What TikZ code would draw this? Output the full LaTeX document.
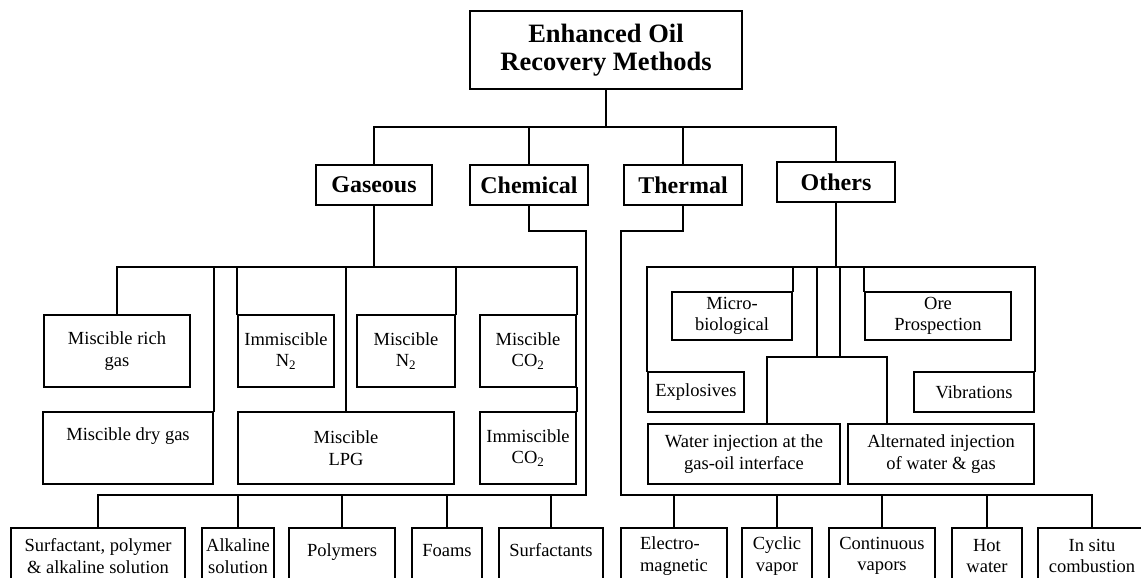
\documentclass[tikz,border=0pt]{standalone}
\usepackage{fontspec}
\setmainfont{Liberation Serif}
\usetikzlibrary{calc}
\begin{document}
\begin{tikzpicture}[x=1pt,y=-1pt,
  box/.style={draw, rectangle, inner sep=0pt, align=center, line width=2pt,
    font=\fontsize{18.5}{21.5}\selectfont},
  head/.style={box, font=\fontsize{24}{28}\selectfont\bfseries},
  title/.style={box, font=\fontsize{26.5}{27.5}\selectfont\bfseries},
  low/.style={box, minimum height=56pt},
  oneline/.style={text height=9pt, text depth=9pt},
  link/.style={line width=2pt, line cap=rect, line join=miter}]

\fill[white] (0,0) rectangle (1141,578);
\clip (0,0) rectangle (1141,578);

% root and main categories
\node[title, minimum width=272pt, minimum height=78pt] (root) at (606,50) {Enhanced Oil\\Recovery Methods};
\node[head, minimum width=116pt, minimum height=40pt] (gas)  at (374,185) {Gaseous};
\node[head, minimum width=118pt, minimum height=40pt] (chem) at (529,185) {Chemical};
\node[head, minimum width=118pt, minimum height=40pt] (ther) at (683,185) {Thermal};
\node[head, minimum width=118pt, minimum height=40pt] (oth)  at (836,182) {Others};

% gaseous methods
\node[box, minimum width=146pt, minimum height=72pt] (rich)  at (117,351) {Miscible rich\\gas};
\node[box, minimum width=170pt, minimum height=72pt] (dry)   at (128,448) {Miscible dry gas\\\strut};
\node[box, minimum width=96pt,  minimum height=72pt] (immN)  at (286,351) {Immiscible\\N\textsubscript{2}};
\node[box, minimum width=98pt,  minimum height=72pt] (misN)  at (406,351) {Miscible\\N\textsubscript{2}};
\node[box, minimum width=216pt, minimum height=72pt] (lpg)   at (346,448) {Miscible\\LPG};
\node[box, minimum width=96pt,  minimum height=72pt] (misCO) at (528,351) {Miscible\\CO\textsubscript{2}};
\node[box, minimum width=96pt,  minimum height=72pt] (immCO) at (528,448) {Immiscible\\CO\textsubscript{2}};

% other methods
\node[box, minimum width=120pt, minimum height=48pt] (micro) at (732,316) {Micro-\\biological};
\node[box, minimum width=146pt, minimum height=48pt] (ore)   at (938,316) {Ore\\Prospection};
\node[box, minimum width=96pt,  minimum height=40pt] (expl)  at (696,392) {Explosives};
\node[box, minimum width=120pt, minimum height=40pt] (vib)   at (974,392) {Vibrations};
\node[box, minimum width=192pt, minimum height=60pt] (water) at (744,454) {Water injection at the\\gas-oil interface};
\node[box, minimum width=186pt, minimum height=60pt] (alt)   at (941,454) {Alternated injection\\of water \& gas};

% chemical methods
\node[low, minimum width=174pt] (sp)   at (98,556)  {Surfactant, polymer\\\& alkaline solution};
\node[low, minimum width=72pt]  (alk)  at (238,556) {Alkaline\\solution};
\node[low, oneline, minimum width=106pt] (poly) at (342,556) {Polymers};
\node[low, oneline, minimum width=70pt]  (foam) at (447,556) {Foams};
\node[low, oneline, minimum width=104pt] (surf) at (551,556) {Surfactants};

% thermal methods
\node[low, minimum width=106pt, align=left] (em) at (674,556) {Electro-\\magnetic};
\node[low, minimum width=70pt]  (cyc)  at (777,556)  {Cyclic\\vapor};
\node[low, minimum width=106pt] (cont) at (882,556)  {Continuous\\vapors};
\node[low, minimum width=70pt]  (hot)  at (987,556)  {Hot\\water};
\node[low, minimum width=108pt] (ins)  at (1092,556) {In situ\\combustion};

% bus levels and bends
\coordinate (tbus) at (0,127);
\coordinate (gbus) at (0,267);
\coordinate (cbus) at (0,495);
\coordinate (cjog) at (586,231);
\coordinate (tjog) at (621,231);
\coordinate (ch1)  at (817,357);
\coordinate (ch2)  at (840,357);
\coordinate (wdrop) at (767,424);
\coordinate (adrop) at (887,424);

% root to categories
\draw[link] (root.south) -- (root.south |- tbus);
\draw[link] (gas.north) |- (oth.north |- tbus) -- (oth.north);
\draw[link] (chem.north) -- (chem.north |- tbus);
\draw[link] (ther.north) -- (ther.north |- tbus);

% gaseous tree
\draw[link] (gas.south) -- (gas.south |- gbus);
\draw[link] (rich.north) |- (misCO.north east |- gbus) -- (misCO.north east);
\draw[link] (dry.north east) -- (dry.north east |- gbus);
\draw[link] (immN.north west) -- (immN.north west |- gbus);
\draw[link] (lpg.north) -- (lpg.north |- gbus);
\draw[link] (misN.north east) -- (misN.north east |- gbus);
\draw[link] (misCO.south east) -- (immCO.north east);

% others tree
\draw[link] (oth.south) -- (oth.south |- gbus);
\draw[link] (expl.north west) |- (vib.north east |- gbus) -- (vib.north east);
\draw[link] (micro.north east) -- (micro.north east |- gbus);
\draw[link] (ore.north west) -- (ore.north west |- gbus);
\draw[link] (ch1) -- (ch1 |- gbus);
\draw[link] (ch2) -- (ch2 |- gbus);
\draw[link] (wdrop) |- (ch1) -- (ch2) -| (adrop);

% chemical tree
\draw[link] (chem.south) |- (cjog) |- (sp.north |- cbus) -- (sp.north);
\foreach \n in {alk,poly,foam,surf} \draw[link] (\n.north) -- (\n.north |- cbus);

% thermal tree
\draw[link] (ther.south) |- (tjog) |- (ins.north |- cbus) -- (ins.north);
\foreach \n in {em,cyc,cont,hot} \draw[link] (\n.north) -- (\n.north |- cbus);
\end{tikzpicture}
\end{document}
